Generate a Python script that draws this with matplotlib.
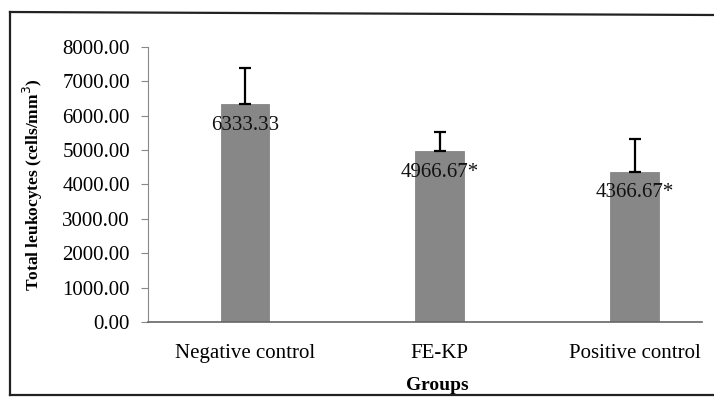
import matplotlib.pyplot as plt
from matplotlib.lines import Line2D

groups = ["Negative control", "FE-KP", "Positive control"]
means = [6333.33, 4966.67, 4366.67]
errors = [1050, 570, 950]
value_labels = ["6333.33", "4966.67*", "4366.67*"]
yticks = [0, 1000, 2000, 3000, 4000, 5000, 6000, 7000, 8000]

plt.rcParams['font.family'] = ['Liberation Serif', 'DejaVu Serif']

fig = plt.figure(figsize=(7.14, 3.98), dpi=100)
ax = fig.add_axes([0.2073, 0.191, 0.7757, 0.691])

x = list(range(len(groups)))
ax.bar(x, means, width=0.25, color='#878787', edgecolor='#7a7a7a', linewidth=0.5, zorder=2)
ax.errorbar(x, means, yerr=[[0] * len(errors), errors], fmt='none', ecolor='black',
            elinewidth=1.6, capsize=4, capthick=1.6, zorder=3)

for xi, m, lab in zip(x, means, value_labels):
    ax.annotate(lab, (xi, m), xytext=(0, -15), textcoords='offset points',
                ha='center', va='center', fontsize=15, color='#111111', zorder=4)

ax.set_xlim(-0.497, 2.344)
ax.set_ylim(0, 8000)
ax.set_yticks(yticks)
ax.set_yticklabels([f"{v:.2f}" for v in yticks], fontsize=15)
ax.set_xticks(x)
ax.set_xticklabels(groups, fontsize=15)
ax.tick_params(axis='x', length=0, pad=16)
ax.tick_params(axis='y', length=5, color='#888888', pad=8)

for s in ['top', 'right']:
    ax.spines[s].set_visible(False)
ax.spines['left'].set_color('#888888')
ax.spines['bottom'].set_color('#666666')
ax.spines['bottom'].set_linewidth(1.2)

ax.set_ylabel("Total leukocytes (cells/mm$^3$)", fontsize=12.5, fontweight='bold')
ax.yaxis.set_label_coords(-0.186, 0.5)
ax.set_xlabel("Groups", fontsize=14, fontweight='bold')
ax.xaxis.set_label_coords(0.522, -0.2)

# outer frame around the chart area
fw, fh = 714, 398
frame = [((10, 395), (10, 12)), ((10, 12), (714, 15)), ((10, 395), (714, 395))]
for (x0, y0), (x1, y1) in frame:
    fig.add_artist(Line2D([x0 / fw, x1 / fw], [1 - y0 / fh, 1 - y1 / fh],
                          transform=fig.transFigure, color='#222222', linewidth=1.6))

fig.savefig("out.png", dpi=100)
